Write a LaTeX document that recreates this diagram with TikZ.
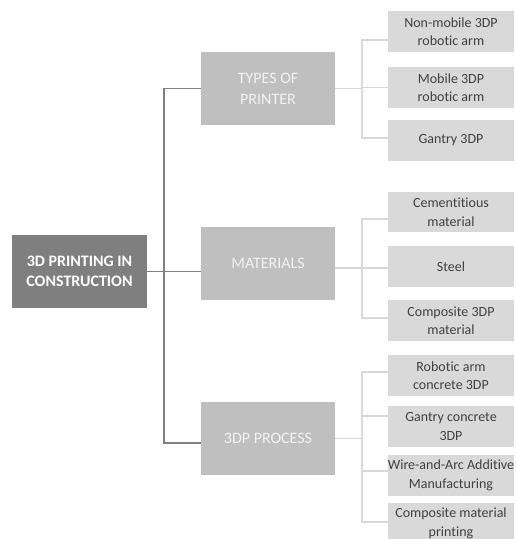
\documentclass[tikz,border=0pt]{standalone}
\usepackage{fontspec}
\setmainfont[Ligatures=NoCommon]{Carlito}
\definecolor{rootfill}{HTML}{7F7F7F}
\definecolor{midfill}{HTML}{BFBFBF}
\definecolor{leaffill}{HTML}{D9D9D9}
\definecolor{leaftext}{HTML}{404040}
\definecolor{darkline}{HTML}{808080}
\definecolor{liteline}{HTML}{D9D9D9}
\begin{document}
\begin{tikzpicture}[x=1pt,y=1pt,
  rootbox/.style={fill=rootfill, text=white, font=\fontsize{16}{20}\selectfont\bfseries,
    minimum width=135pt, minimum height=73pt, align=center, inner sep=0pt},
  midbox/.style={fill=midfill, text=white!95!black, font=\fontsize{16}{21}\selectfont,
    minimum width=134pt, minimum height=73pt, align=center, inner sep=0pt},
  leafbox/.style={fill=leaffill, text=leaftext, font=\fontsize{14}{18.5}\selectfont,
    minimum width=126pt, minimum height=41pt, align=center, inner sep=0pt},
  darkconn/.style={draw=darkline, line width=1.8pt},
  liteconn/.style={draw=liteline, line width=1.4pt}]
\useasboundingbox (0,0) rectangle (516,-539);
% root
\node[rootbox] (root) at (79.5,-271.5) {3D PRINTING IN\\CONSTRUCTION};
% level 1
\node[midbox] (types) at (268,-88.5) {TYPES OF\\PRINTER};
\node[midbox] (mat) at (268,-263.5) {MATERIALS};
\node[midbox] (proc) at (268,-438.5) {3DP PROCESS};
% level 2
\node[leafbox] (nonmob) at (451,-31.5) {Non-mobile 3DP\\robotic arm};
\node[leafbox] (mob) at (451,-87.5) {Mobile 3DP\\robotic arm};
\node[leafbox] (gan) at (451,-140.5) {Gantry 3DP};
\node[leafbox, minimum height=40pt] (cem) at (451,-212) {Cementitious\\material};
\node[leafbox] (steel) at (451,-266.5) {Steel};
\node[leafbox] (comp) at (451,-320.5) {Composite 3DP\\material};
\node[leafbox] (robc) at (451,-375.5) {Robotic arm\\concrete 3DP};
\node[leafbox] (ganc) at (451,-426.5) {Gantry concrete\\3DP};
\node[leafbox] (waam) at (451,-475.5) {Wire-and-Arc Additive\\Manufacturing};
\node[leafbox] (compp) at (451,-523.5) {Composite material\\printing};
% root connectors
\coordinate (rj) at (164,-271.5);
\draw[darkconn] (root.east) -- (root.east -| mat.west);
\draw[darkconn] (rj) |- (types.west);
\draw[darkconn] (rj) |- ([yshift=-4.5pt]proc.west);
% level 1 to level 2 connectors
\coordinate (tj) at (362,-88.5);
\coordinate (mj) at (362,-268);
\coordinate (pj) at (362,-438.5);
\draw[liteconn] (types.east) -- (tj);
\draw[liteconn] (tj) |- ([yshift=-8.5pt]nonmob.west);
\draw[liteconn] (tj) |- (mob.west);
\draw[liteconn] (tj) |- ([yshift=2.5pt]gan.west);
\draw[liteconn] ([yshift=-4.5pt]mat.east) -- (mj);
\draw[liteconn] (mj) |- ([yshift=-7pt]cem.west);
\draw[liteconn] (mj) |- ([yshift=-1.5pt]steel.west);
\draw[liteconn] (mj) |- ([yshift=2.5pt]comp.west);
\draw[liteconn] (proc.east) -- (pj);
\draw[liteconn] (pj) |- ([yshift=3.5pt]robc.west);
\draw[liteconn] (pj) |- ([yshift=10.5pt]ganc.west);
\draw[liteconn] (pj) |- ([yshift=4.5pt]waam.west);
\draw[liteconn] (pj) |- ([yshift=1.5pt]compp.west);
\end{tikzpicture}
\end{document}
